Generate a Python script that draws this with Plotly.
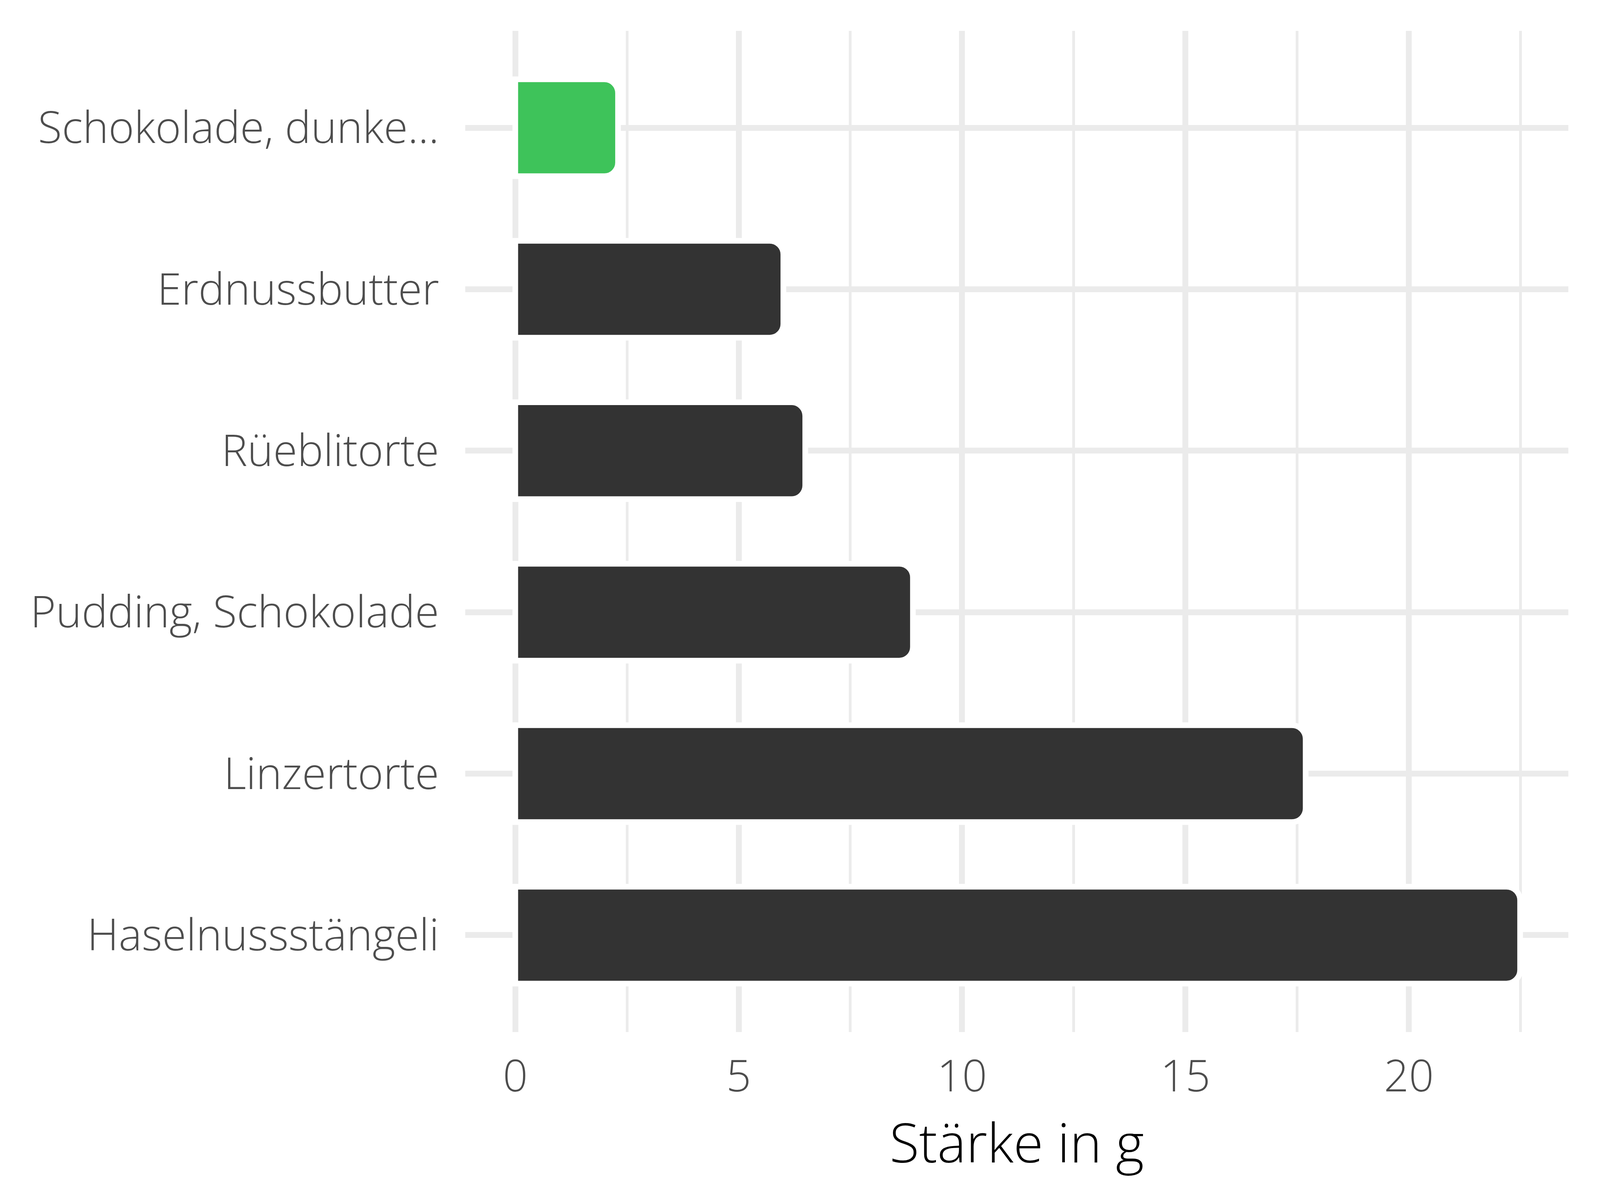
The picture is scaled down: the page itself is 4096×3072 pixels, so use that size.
import plotly.graph_objects as go

categories = ["Haselnussstängeli", "Linzertorte", "Pudding, Schokolade",
              "Rüeblitorte", "Erdnussbutter", "Schokolade, dunke..."]
values = [22.49, 17.69, 8.90, 6.49, 6.00, 2.30]
colors = ["#333333", "#333333", "#333333", "#333333", "#333333", "#3EC35A"]
x_ticks = [0, 5, 10, 15, 20]
x_title = "Stärke in g"

W, H = 4096, 3072
FONT = "Open Sans"

fig = go.Figure(go.Bar(
    x=values, y=categories, orientation="h", width=0.6,
    marker=dict(color=colors, line=dict(color="white", width=14.5),
                cornerradius=35),
    hoverinfo="x+y",
))

fig.update_layout(
    width=W, height=H,
    margin=dict(l=1183, r=89, t=71, b=438, autoexpand=False),
    paper_bgcolor="white", plot_bgcolor="white",
    showlegend=False,
    font=dict(family=FONT, color="#4D4D4D"),
)
fig.update_xaxes(
    range=[-1.12, 23.57], tickvals=x_ticks, ticktext=[str(v) for v in x_ticks],
    showgrid=True, gridcolor="#EBEBEB", gridwidth=14.5,
    minor=dict(tick0=0, dtick=2.5, showgrid=True, gridcolor="#EBEBEB", gridwidth=6.8),
    zeroline=False, showline=False, ticks="",
    tickfont=dict(family=FONT, size=112, color="#4D4D4D", weight=300),
    ticklabelstandoff=39,
    title=dict(text=x_title, font=dict(family=FONT, size=139, color="black", weight=300),
               standoff=24),
)
fig.update_yaxes(
    categoryorder="array", categoryarray=categories, range=[-0.6, 5.6],
    showgrid=True, gridcolor="#EBEBEB", gridwidth=14.5,
    zeroline=False, showline=False, ticks="",
    tickfont=dict(family=FONT, size=112, color="#4D4D4D", weight=300),
    ticklabelstandoff=66,
)

fig.write_html("out.html")
